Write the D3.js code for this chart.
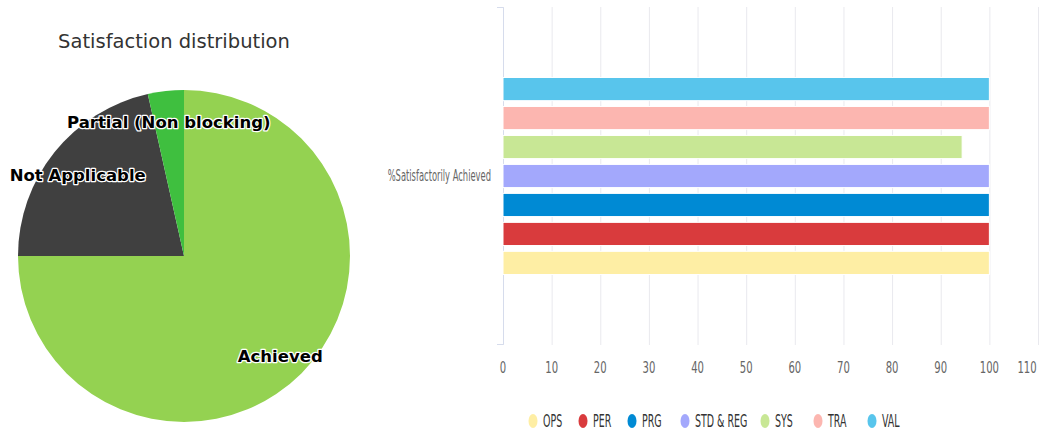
<!DOCTYPE html>
<html>
<head>
<meta charset="utf-8">
<script src="https://cdn.jsdelivr.net/npm/d3@7"></script>
<style>
  body { margin: 0; background: #fff; }
  .narrow { font-family: "Liberation Sans Narrow", "DejaVu Sans Condensed", sans-serif; }
</style>
</head>
<body>
<div id="chart"></div>
<script>
// pie data
const pieLabels = ["Achieved", "Not Applicable", "Partial (Non blocking)"];
const pieValues = [75, 21.5, 3.5];
const pieColors = ["#94d251", "#404040", "#3fbf3f"];

// bar data
const barCategory = "%Satisfactorily Achieved";
const seriesNames = ["OPS", "PER", "PRG", "STD & REG", "SYS", "TRA", "VAL"];
const seriesValues = [100, 100, 100, 100, 94.4, 100, 100];
const seriesColors = ["#feeea4", "#d93b3d", "#008ad4", "#a3a8fc", "#c8e795", "#fcb6b0", "#58c5ec"];
const xTicks = [0, 10, 20, 30, 40, 50, 60, 70, 80, 90, 100, 110];

const W = 1040, H = 434;
const svg = d3.select("#chart").append("svg")
  .attr("width", W).attr("height", H);

// ---- pie ----
svg.append("text")
  .attr("x", 174).attr("y", 48)
  .attr("text-anchor", "middle")
  .style("font-family", "'DejaVu Sans', Verdana, sans-serif")
  .style("font-size", "19.5px")
  .style("fill", "#333")
  .text("Satisfaction distribution");

const cx = 184, cy = 256, r = 166;
const pie = d3.pie().sort(null)(pieValues);
const arc = d3.arc().innerRadius(0).outerRadius(r);
const pieG = svg.append("g").attr("transform", `translate(${cx},${cy})`);
pieG.selectAll("path")
  .data(pie)
  .join("path")
    .attr("d", arc)
    .attr("fill", (d, i) => pieColors[i]);

// label positions along each slice's mid angle, with small nudges
const labelPos = [
  { rr: 0.82, dx: 0, dy: 10 },
  { rr: 0.72, dx: -13, dy: 0 },
  { rr: 0.78, dx: -1, dy: 1 }
];
pieG.selectAll("text.lbl")
  .data(pie)
  .join("text")
    .attr("class", "lbl")
    .attr("x", (d, i) => Math.sin((d.startAngle + d.endAngle) / 2) * r * labelPos[i].rr + labelPos[i].dx)
    .attr("y", (d, i) => -Math.cos((d.startAngle + d.endAngle) / 2) * r * labelPos[i].rr + labelPos[i].dy)
    .attr("text-anchor", "middle")
    .style("font-family", "'DejaVu Sans', Verdana, sans-serif")
    .style("font-weight", "bold")
    .style("font-size", "16.5px")
    .style("fill", "#000")
    .style("stroke", "#fff")
    .style("stroke-width", "2.5px")
    .style("paint-order", "stroke")
    .style("stroke-linejoin", "round")
    .text((d, i) => pieLabels[i]);

// ---- bar chart ----
const plot = { left: 503, right: 1038, top: 7, bottom: 345 };
const x = d3.scaleLinear().domain([0, 110]).range([plot.left, plot.right]);
const y0 = d3.scaleBand().domain([barCategory]).range([plot.top, plot.bottom]).paddingInner(0).paddingOuter(0);
// series are listed top to bottom in reverse order (VAL at top)
const y1 = d3.scaleBand().domain(seriesNames.slice().reverse())
  .range([y0(barCategory) + y0.bandwidth() * 0.2, y0(barCategory) + y0.bandwidth() * 0.8])
  .paddingInner(0.2).paddingOuter(0.1);

// grid
svg.append("g").selectAll("line")
  .data(xTicks)
  .join("line")
    .attr("x1", d => x(d) + 0.5).attr("x2", d => x(d) + 0.5)
    .attr("y1", plot.top).attr("y2", plot.bottom)
    .attr("stroke", "#e9e9ee").attr("stroke-width", 1);

// category axis
svg.append("path")
  .attr("d", `M${plot.left - 6},${plot.top + 0.5}H${plot.left + 0.5}V${plot.bottom - 0.5}H${plot.left - 6}`)
  .attr("fill", "none").attr("stroke", "#d6dcec").attr("stroke-width", 1);

svg.append("text")
  .attr("class", "narrow")
  .attr("transform", `translate(491, ${y0(barCategory) + y0.bandwidth() / 2 + 5}) scale(0.6,1)`)
  .attr("text-anchor", "end")
  .style("font-size", "15.5px")
  .style("fill", "#666")
  .text(barCategory);

// bars
svg.append("g").selectAll("rect")
  .data(seriesNames.map((s, i) => ({ s, v: seriesValues[i], c: seriesColors[i] })))
  .join("rect")
    .attr("x", x(0))
    .attr("y", d => y1(d.s))
    .attr("width", d => x(d.v) - x(0))
    .attr("height", y1.bandwidth())
    .attr("fill", d => d.c)
    .attr("stroke", "#fff").attr("stroke-width", 1);

// x tick labels
const xa = svg.append("g");
xa.selectAll("text")
  .data(xTicks)
  .join("text")
    .attr("class", "narrow")
    .attr("transform", d => `translate(${d === 110 ? x(d) - 11 : x(d)}, 373) scale(0.7,1)`)
    .attr("text-anchor", "middle")
    .style("font-size", "16px")
    .style("fill", "#666")
    .text(d => d);

// legend
const legendX = [533, 583, 632, 685, 765, 818, 872];
const legend = svg.append("g");
seriesNames.forEach((s, i) => {
  const g = legend.append("g").attr("transform", `translate(${legendX[i]}, 421)`);
  g.append("ellipse").attr("cx", 0).attr("cy", 0).attr("rx", 4.5).attr("ry", 7)
    .attr("fill", seriesColors[i]);
  g.append("text")
    .attr("class", "narrow")
    .attr("transform", "translate(10, 6) scale(0.62,1)")
    .style("font-size", "17px")
    .style("fill", "#333")
    .text(s);
});
</script>
</body>
</html>
